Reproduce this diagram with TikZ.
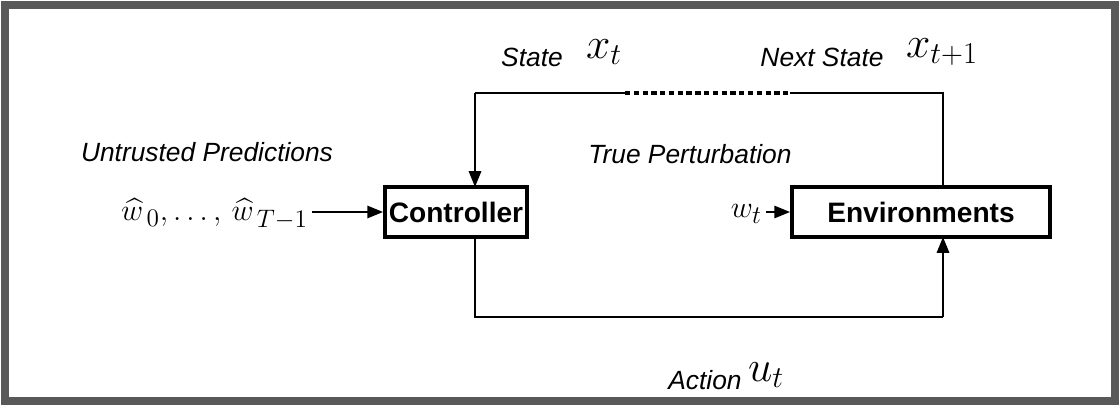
\documentclass[tikz,border=0pt]{standalone}
\usepackage{fontspec}
\setmainfont{Liberation Sans}
\usepackage{amsmath}
\usetikzlibrary{arrows.meta}
\begin{document}
\begin{tikzpicture}[x=0.02cm,y=-0.02cm,
  box/.style={draw,line width=2.2pt,inner sep=0pt,font=\fontsize{16}{18}\selectfont\bfseries},
  lbl/.style={font=\fontsize{15}{17}\selectfont\itshape},
  mth/.style={font=\fontsize{25}{27}\selectfont},
  ln/.style={line width=1.2pt},
  arr/.style={ln,-{Triangle[length=9pt,width=7pt]}}]
\useasboundingbox (0,0) rectangle (1120,406);
\draw[line width=4pt,gray!70!black] (5,5) rectangle (1115,401);
\node[box,minimum width=2.84cm,minimum height=1cm] (ctrl) at (456,212) {Controller};
\node[box,minimum width=5.16cm,minimum height=1cm] (env) at (921,212) {Environments};
\coordinate (ct) at (475,187); \coordinate (cb) at (475,237);
\coordinate (et) at (943,187); \coordinate (eb) at (943,237);
\coordinate (tl) at (475,93); \coordinate (d1) at (625,93); \coordinate (d2) at (790,93); \coordinate (tr) at (943,93);
\coordinate (bl) at (475,317); \coordinate (br) at (943,317);
\draw[ln] (d1) -- (tl);
\draw[arr] (tl) -- (ct);
\draw[line width=2.2pt,dash pattern=on 3pt off 2pt] (d1) -- (d2);
\draw[ln] (d2) -- (tr) -- (et);
\draw[ln] (cb) -- (bl) -- (br);
\draw[arr] (br) -- (eb);
\node[anchor=east,font=\fontsize{19}{21}\selectfont,inner sep=1pt] (pred) at (310,214) {$\widehat{w}_{\,0},\ldots,\,\widehat{w}_{\,T-1}$};
\coordinate (pe) at (312,212);
\draw[arr] (pe) -- (ctrl.west);
\node[anchor=east,font=\fontsize{19}{21}\selectfont,inner sep=1pt] (w) at (764,214) {$w_t$};
\coordinate (we) at (766,212);
\draw[arr] (we) -- (env.west);
\node[lbl] (s) at (532,57) {State};
\node[mth] (xs) at (604,52) {$x_t$};
\node[lbl] (ns) at (822,57) {Next State};
\node[mth] (xn) at (942,52) {$x_{t+1}$};
\node[lbl] (up) at (207,152) {Untrusted Predictions};
\node[lbl] (tp) at (690,154) {True Perturbation};
\node[lbl] (ac) at (705,380) {Action};
\node[mth] (ut) at (766,375) {$u_t$};
\end{tikzpicture}
\end{document}
